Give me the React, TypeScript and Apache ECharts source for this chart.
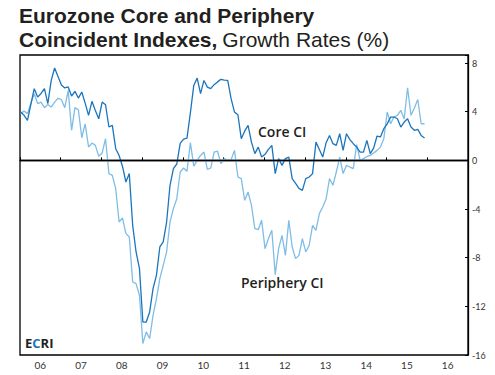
import React, { useEffect, useRef } from "react";
import * as echarts from "echarts";

const yearLabels = ["06", "07", "08", "09", "10", "11", "12", "13", "14", "15", "16"];
const startYear = 2006;

// Monthly values, Jan 2006 – Dec 2015
const coreCI = [
  3.97, 3.7, 3.29, 4.6, 5.89, 5.2, 5.5, 5.89, 4.66, 6.57, 7.59, 6.9,
  6.2, 5.95, 6.03, 5.29, 5.67, 5.12, 5.62, 4.7, 3.7, 4.85, 4.1, 3.42,
  4.79, 4.57, 2.74, 2.88, 0.96, 0.4, -0.5, -1.78, -1.09, -5.34, -7.53, -8.9,
  -13.29, -13.29, -12.46, -10.54, -9.45, -7.12, -6.71, -5.07, -2.05, -0.68, -0.3, 1.4,
  1.75, 1.83, 3.9, 6.16, 6.76, 5.48, 6.57, 6.02, 5.89, 6.22, 6.45, 6.66,
  6.6, 6.57, 5.07, 3.97, 3.75, 1.78, 2.4, 2.88, 1.5, 0.55, 1.09, 0.27,
  0.5, 0.9, 1.23, -1.09, 0.14, -0.41, 0.14, 0.27, -1.5, -1.9, -2.3, -2.47,
  -1.5, -1.37, -1.09, 1.5, 0.9, 0.27, 1.45, 2.05, 1.37, 1.23, 2.19, 0.82,
  2.19, 1.7, 1.37, 1.09, 0.68, 0.68, 1.64, 0.55, 1.0, 2.0, 1.92, 2.6,
  3.0, 3.56, 3.56, 3.42, 2.74, 3.15, 3.42, 2.74, 2.47, 2.55, 2.05, 1.83,
];

const peripheryCI = [
  3.84, 4.05, 3.84, 4.7, 5.48, 4.66, 4.79, 4.33, 4.6, 4.38, 4.79, 5.1,
  4.99, 4.33, 5.75, 2.47, 4.33, 4.16, 1.86, 3.0, 1.1, 1.42, 1.23, 0.33,
  0.6, 1.78, -1.09, -1.23, -2.33, -5.07, -4.74, -6.0, -6.3, -10.0, -10.13, -11.09,
  -15.06, -14.1, -14.65, -12.74, -11.36, -9.72, -8.63, -7.53, -5.07, -3.97, -3.15, -0.96,
  -0.63, -0.9, 1.45, -0.47, 0.0, 0.4, 0.68, -0.74, -0.63, 0.68, 0.75, -0.27,
  0.14, 0.0, 0.05, 0.82, -1.37, -1.5, -3.29, -2.6, -3.7, -5.61, -5.7, -4.93,
  -7.26, -6.43, -5.75, -9.39, -7.26, -6.16, -7.81, -4.93, -7.12, -8.08, -7.81, -6.43,
  -7.53, -7.0, -5.34, -5.75, -4.38, -3.84, -3.15, -1.5, -2.05, -0.96, 0.27, -1.09,
  -0.41, -0.55, -0.68, 1.3, 0.0, 0.14, 0.3, 0.41, 0.6, 0.82, 1.09, 1.78,
  3.97, 3.01, 3.56, 3.7, 4.11, 3.4, 5.97, 3.7, 4.3, 5.0, 3.01, 3.01,
];

const toPoints = (vals: number[]) =>
  vals.map((v, i) => [startYear + (i + 0.2) / 12, v]);

export default function App() {
  const ref = useRef<HTMLDivElement>(null);
  useEffect(() => {
    if (!ref.current) return;
    const chart = echarts.init(ref.current, null, { renderer: "svg" });
    const dark = "#231f20";
    const titleFont = { fontFamily: "Liberation Sans", fontSize: 21, color: dark, lineHeight: 23 };
    chart.setOption({
      animation: false,
      title: [
        {
          left: 19,
          top: 4,
          padding: 0,
          text: "Eurozone Core and Periphery",
          textStyle: { ...titleFont, fontWeight: "bold" },
        },
        {
          left: 19,
          top: 28,
          padding: 0,
          text: "{b|Coincident Indexes,} {l|Growth Rates (%)}",
          textStyle: {
            rich: {
              b: { ...titleFont, fontWeight: "bold" },
              l: { ...titleFont, fontWeight: "normal" },
            },
          },
        },
      ],
      grid: {
        left: 20,
        top: 55,
        right: 27,
        bottom: 20,
        show: true,
        borderColor: "#000",
        borderWidth: 1.3,
        backgroundColor: "transparent",
      },
      xAxis: [
        {
          type: "value",
          min: 2006,
          max: 2017,
          interval: 1,
          axisLine: { show: true, lineStyle: { color: "#000", width: 1.3 } },
          axisTick: { show: true, inside: true, length: 3, lineStyle: { color: "#000" } },
          axisLabel: { show: false },
          splitLine: { show: false },
        },
        {
          type: "category",
          data: yearLabels,
          position: "bottom",
          boundaryGap: true,
          axisLine: { show: false },
          axisTick: { show: false },
          axisLabel: { color: "#333", fontSize: 10, fontFamily: "Lato", margin: 5 },
          splitLine: { show: false },
        },
      ],
      yAxis: {
        type: "value",
        position: "right",
        min: -16,
        max: 8.66,
        interval: 4,
        axisLine: { show: true, lineStyle: { color: "#000", width: 1.3 } },
        axisTick: { show: true, inside: true, length: 3, lineStyle: { color: "#000" } },
        axisLabel: {
          color: "#333",
          fontSize: 9,
          fontFamily: "Lato",
          margin: 4,
          formatter: (v: number) => (Math.abs(v % 4) < 1e-6 ? String(v) : ""),
        },
        splitLine: { show: false },
      },
      series: [
        {
          name: "Periphery CI",
          type: "line",
          xAxisIndex: 0,
          data: toPoints(peripheryCI),
          showSymbol: false,
          symbol: "none",
          lineStyle: { color: "#7fbde6", width: 1.3 },
          z: 2,
        },
        {
          name: "Core CI",
          type: "line",
          xAxisIndex: 0,
          data: toPoints(coreCI),
          showSymbol: false,
          symbol: "none",
          lineStyle: { color: "#1b75bc", width: 1.3 },
          z: 3,
          markLine: {
            silent: true,
            symbol: "none",
            label: { show: false },
            lineStyle: { color: "#000", width: 1.3, type: "solid" },
            data: [{ yAxis: 0 }],
          },
        },
      ],
      graphic: [
        {
          type: "text",
          left: 258,
          top: 124,
          style: { text: "Core CI", font: "600 14px 'Open Sans'", fill: dark },
        },
        {
          type: "text",
          left: 241,
          top: 275,
          style: { text: "Periphery CI", font: "600 14px 'Open Sans'", fill: dark },
        },
        {
          type: "text",
          left: 25,
          top: 336,
          style: {
            text: "{d|E}{c|C}{d|RI}",
            rich: {
              d: { font: "bold 13px 'Open Sans'", fill: dark },
              c: { font: "bold 13px 'Open Sans'", fill: "#1b75bc" },
            },
          },
        },
      ],
    });
    return () => chart.dispose();
  }, []);
  return (
    <div
      ref={ref}
      style={{ position: "absolute", left: 0, top: 0, width: 495, height: 375 }}
    />
  );
}
